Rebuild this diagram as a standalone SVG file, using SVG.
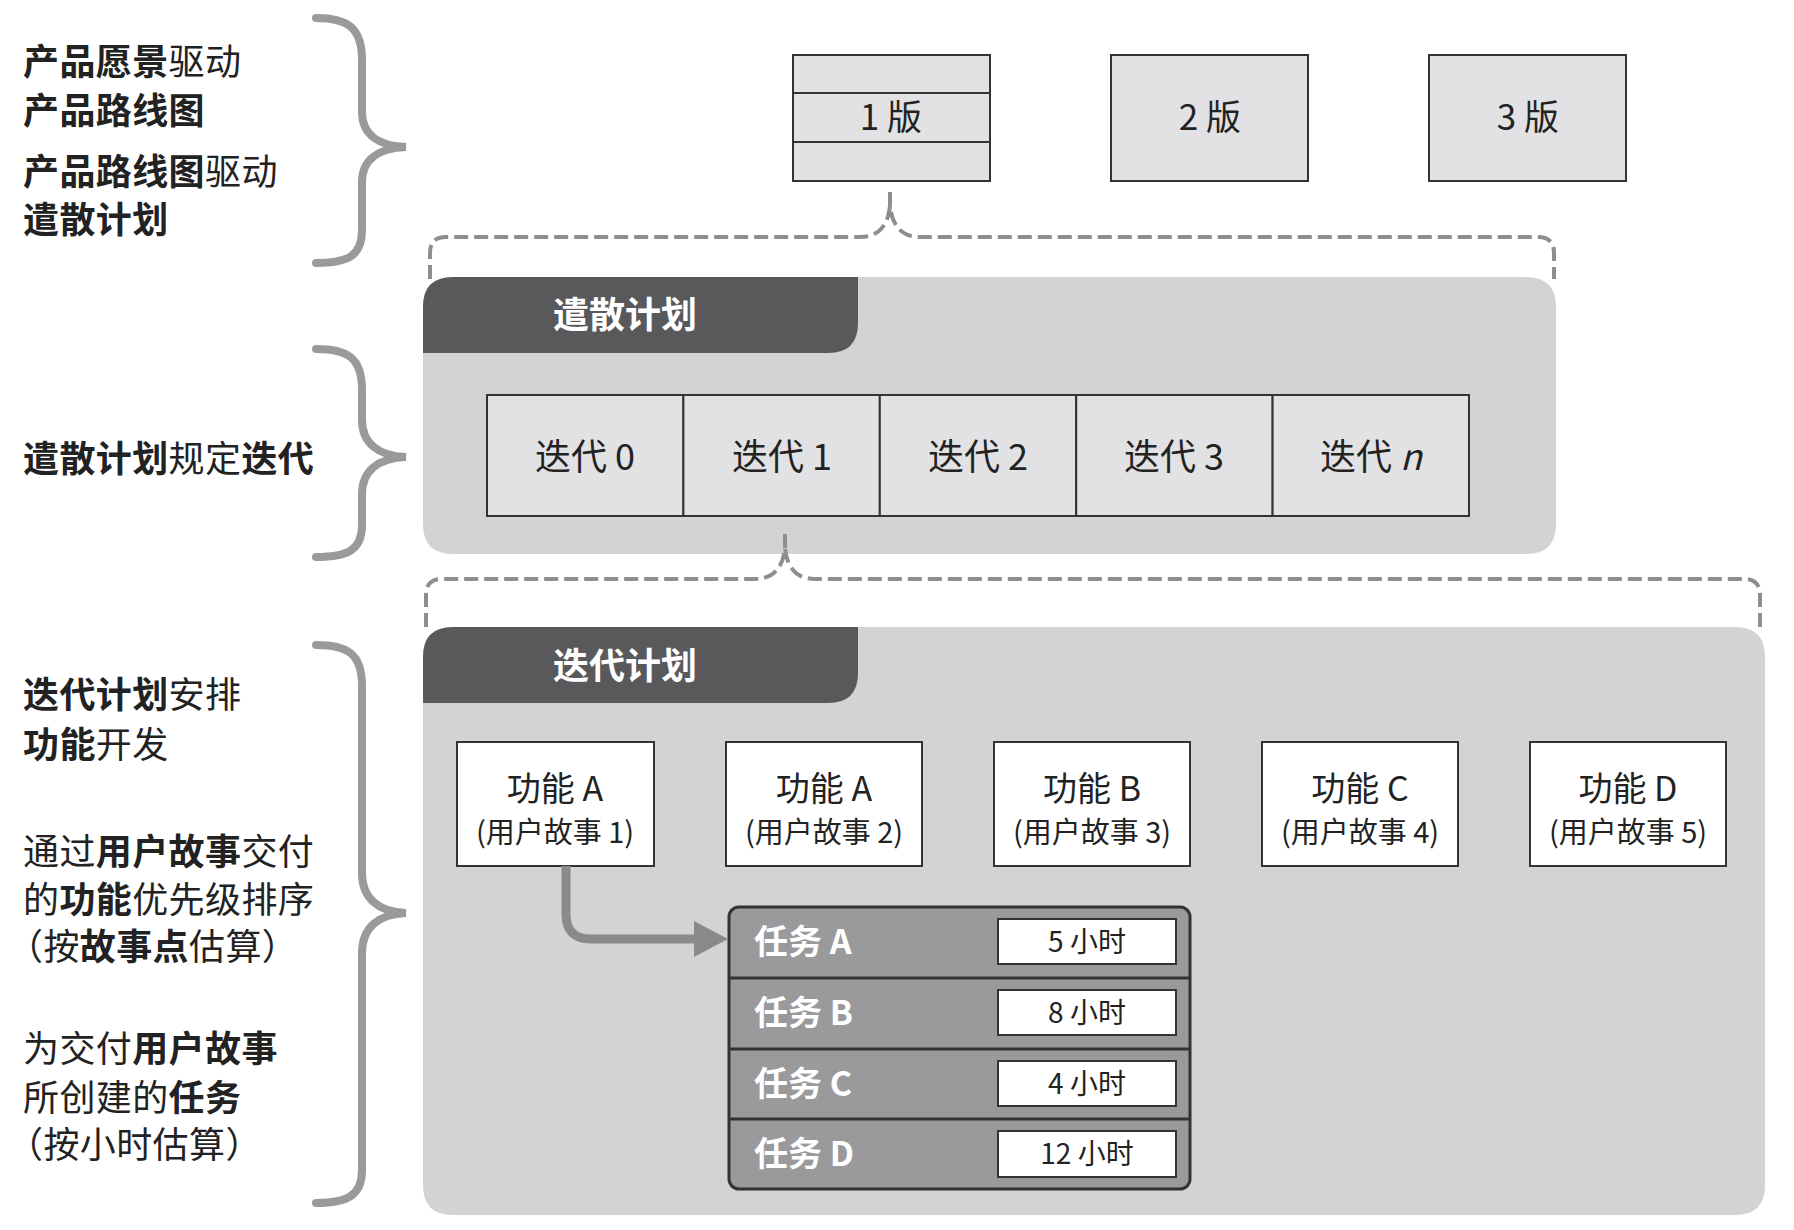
<svg xmlns="http://www.w3.org/2000/svg" width="1794" height="1230" viewBox="0 0 1794 1230">
<defs>
<style>
text{font-family:"Noto Sans CJK SC","Noto Sans",sans-serif;fill:#222}
.lbl{font-size:36px;letter-spacing:0.4px}
.b{font-weight:700}
.brace{fill:none;stroke:#9a9a9a;stroke-width:8;stroke-linecap:round}
.dash{fill:none;stroke:#8e8e8e;stroke-width:4;stroke-dasharray:14 6}
.panel{fill:#d3d3d5}
.tab{fill:#59595b}
.tabtxt{font-size:36px;font-weight:700;fill:#fff}
.rel{fill:#e2e2e4;stroke:#333;stroke-width:2}
.relt{font-size:35px;text-anchor:middle}
.it{fill:#e2e2e4;stroke:#333;stroke-width:2}
.itt{font-size:36px;text-anchor:middle}
.feat{fill:#fff;stroke:#333;stroke-width:2}
.ft1{font-size:34px;text-anchor:middle}
.ft2{font-size:29px;text-anchor:middle}
.task{fill:#9a9a9c;stroke:#333;stroke-width:3}
.taskt{font-size:34px;font-weight:700;fill:#fff}
.hr{fill:#fff;stroke:#333;stroke-width:2}
.hrt{font-size:28px;text-anchor:middle}
.conn{fill:none;stroke:#8a8a8a;stroke-width:9}
</style>
<marker id="ah" markerUnits="userSpaceOnUse" markerWidth="34" markerHeight="36" refX="6" refY="18" orient="auto">
<path d="M0 0 L34 18 L0 36 Z" fill="#8a8a8a"/>
</marker>
</defs>

<g id="left-labels">
<g id="label-1">
<text class="lbl" x="23" y="75"><tspan class="b">产品愿景</tspan>驱动</text>
<text class="lbl b" x="23" y="124">产品路线图</text>
<text class="lbl" x="23" y="185"><tspan class="b">产品路线图</tspan>驱动</text>
<text class="lbl b" x="23" y="233">遣散计划</text>
</g>
<g id="label-2">
<text class="lbl" x="23" y="472"><tspan class="b">遣散计划</tspan>规定<tspan class="b">迭代</tspan></text>
</g>
<g id="label-3">
<text class="lbl" x="23" y="708"><tspan class="b">迭代计划</tspan>安排</text>
<text class="lbl" x="23" y="758"><tspan class="b">功能</tspan>开发</text>
<text class="lbl" x="23" y="865">通过<tspan class="b">用户故事</tspan>交付</text>
<text class="lbl" x="23" y="913">的<tspan class="b">功能</tspan>优先级排序</text>
<text class="lbl" x="7" y="960">（按<tspan class="b">故事点</tspan>估算）</text>
<text class="lbl" x="23" y="1062">为交付<tspan class="b">用户故事</tspan></text>
<text class="lbl" x="23" y="1111">所创建的<tspan class="b">任务</tspan></text>
<text class="lbl" x="7" y="1158">（按小时估算）</text>
</g>
</g>

<g id="braces">
<path class="brace" d="M316 18 C348 18 362 28 362 60 L362 112 C362 134 378 146 406 147 C378 148 362 160 362 182 L362 230 C362 256 348 263 316 263"/>
<path class="brace" d="M316 349 C348 349 362 358 362 390 L362 420 C362 443 378 456 406 457 C378 458 362 471 362 494 L362 525 C362 550 348 557 316 557"/>
<path class="brace" d="M316 645 C348 645 362 654 362 686 L362 873 C362 898 378 912 406 913 C378 914 362 928 362 953 L362 1170 C362 1195 348 1203 316 1203"/>
</g>

<g id="releases">
<g id="release-1">
<rect class="rel" x="793" y="55" width="197" height="126"/>
<line x1="793" y1="93" x2="990" y2="93" stroke="#333" stroke-width="2"/>
<line x1="793" y1="142" x2="990" y2="142" stroke="#333" stroke-width="2"/>
<text class="relt" x="891" y="130">1 版</text>
</g>
<g id="release-2">
<rect class="rel" x="1111" y="55" width="197" height="126"/>
<text class="relt" x="1210" y="130">2 版</text>
</g>
<g id="release-3">
<rect class="rel" x="1429" y="55" width="197" height="126"/>
<text class="relt" x="1528" y="130">3 版</text>
</g>
</g>

<g id="release-plan">
<path class="panel" d="M453 277 L1526 277 Q1556 277 1556 307 L1556 524 Q1556 554 1526 554 L453 554 Q423 554 423 524 L423 307 Q423 277 453 277 Z"/>
<path class="tab" d="M453 277 L858 277 L858 323 Q858 353 828 353 L423 353 L423 307 Q423 277 453 277 Z"/>
<text class="tabtxt" x="625" y="328" text-anchor="middle">遣散计划</text>
<g id="iterations">
<rect class="it" x="487" y="395" width="196.4" height="121"/>
<rect class="it" x="683.4" y="395" width="196.4" height="121"/>
<rect class="it" x="879.8" y="395" width="196.4" height="121"/>
<rect class="it" x="1076.2" y="395" width="196.4" height="121"/>
<rect class="it" x="1272.6" y="395" width="196.4" height="121"/>
<text class="itt" x="585" y="470">迭代 0</text>
<text class="itt" x="782" y="470">迭代 1</text>
<text class="itt" x="978" y="470">迭代 2</text>
<text class="itt" x="1174" y="470">迭代 3</text>
<text class="itt" x="1371" y="470">迭代 <tspan font-style="italic">n</tspan></text>
</g>
</g>

<g id="iteration-plan">
<path class="panel" d="M453 627 L1735 627 Q1765 627 1765 657 L1765 1185 Q1765 1215 1735 1215 L453 1215 Q423 1215 423 1185 L423 657 Q423 627 453 627 Z"/>
<path class="tab" d="M453 627 L858 627 L858 673 Q858 703 828 703 L423 703 L423 657 Q423 627 453 627 Z"/>
<text class="tabtxt" x="625" y="679" text-anchor="middle">迭代计划</text>
<g id="feature-1">
<rect class="feat" x="457" y="742" width="197" height="124"/>
<text class="ft1" x="555" y="801">功能 A</text>
<text class="ft2" x="555" y="843">(用户故事 1)</text>
</g>
<g id="feature-2">
<rect class="feat" x="726" y="742" width="196" height="124"/>
<text class="ft1" x="824" y="801">功能 A</text>
<text class="ft2" x="824" y="843">(用户故事 2)</text>
</g>
<g id="feature-3">
<rect class="feat" x="994" y="742" width="196" height="124"/>
<text class="ft1" x="1092" y="801">功能 B</text>
<text class="ft2" x="1092" y="843">(用户故事 3)</text>
</g>
<g id="feature-4">
<rect class="feat" x="1262" y="742" width="196" height="124"/>
<text class="ft1" x="1360" y="801">功能 C</text>
<text class="ft2" x="1360" y="843">(用户故事 4)</text>
</g>
<g id="feature-5">
<rect class="feat" x="1530" y="742" width="196" height="124"/>
<text class="ft1" x="1628" y="801">功能 D</text>
<text class="ft2" x="1628" y="843">(用户故事 5)</text>
</g>
<g id="tasks">
<rect class="task" x="729" y="907" width="461" height="282" rx="10"/>
<line x1="729" y1="978" x2="1190" y2="978" stroke="#333" stroke-width="3"/>
<line x1="729" y1="1049" x2="1190" y2="1049" stroke="#333" stroke-width="3"/>
<line x1="729" y1="1119" x2="1190" y2="1119" stroke="#333" stroke-width="3"/>
<text class="taskt" x="754" y="954">任务 A</text>
<text class="taskt" x="754" y="1025">任务 B</text>
<text class="taskt" x="754" y="1096">任务 C</text>
<text class="taskt" x="754" y="1166">任务 D</text>
<rect class="hr" x="998" y="919" width="178" height="45"/>
<rect class="hr" x="998" y="990" width="178" height="45"/>
<rect class="hr" x="998" y="1061" width="178" height="45"/>
<rect class="hr" x="998" y="1131" width="178" height="46"/>
<text class="hrt" x="1087" y="952">5 小时</text>
<text class="hrt" x="1087" y="1023">8 小时</text>
<text class="hrt" x="1087" y="1094">4 小时</text>
<text class="hrt" x="1087" y="1164">12 小时</text>
</g>
</g>

<g id="connectors">
<path class="dash" d="M430 279 L430 253 Q430 237 446 237 L860 237 C878 237 888 226 890 206 C892 226 902 237 920 237 L1538 237 Q1554 237 1554 253 L1554 279"/>
<path class="dash" d="M890 206 L890 190"/>
<path class="dash" d="M426 627 L426 595 Q426 579 442 579 L755 579 C773 579 783 568 785 548 C787 568 797 579 815 579 L1744 579 Q1760 579 1760 595 L1760 627"/>
<path class="dash" d="M785 548 L785 529"/>
<path class="conn" d="M566 866 L566 914 Q566 939 591 939 L700 939" marker-end="url(#ah)"/>
</g>
</svg>
